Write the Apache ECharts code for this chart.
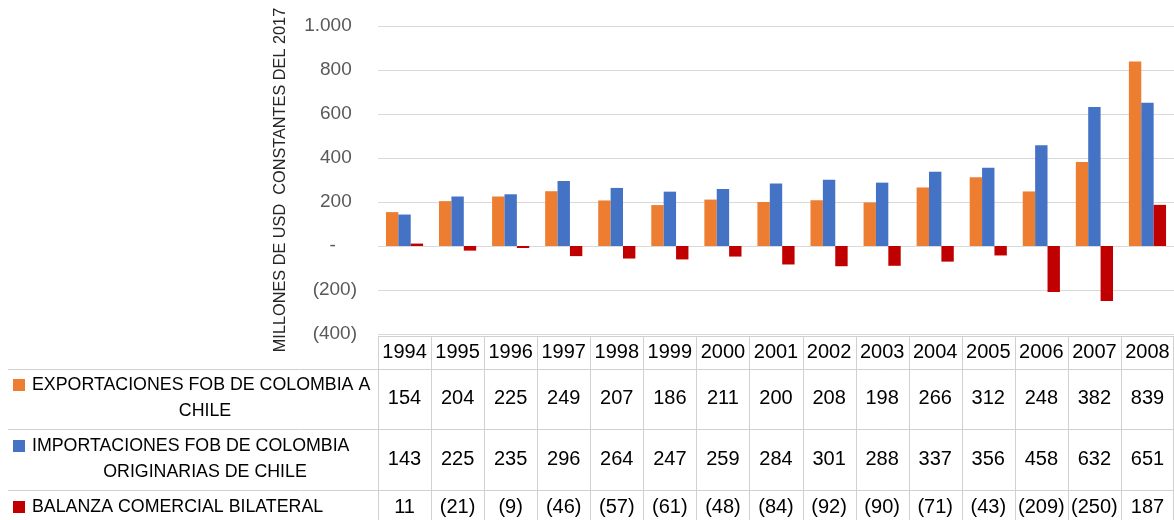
<!DOCTYPE html>
<html>
<head>
<meta charset="utf-8">
<script src="https://cdn.jsdelivr.net/npm/echarts@6/dist/echarts.min.js"></script>
<style>
  html, body { margin: 0; padding: 0; background: #fff; }
  #chart { width: 1174px; height: 520px; }
</style>
</head>
<body>
<div id="chart"></div>
<script>
'use strict';

// data
var years = ['1994', '1995', '1996', '1997', '1998', '1999', '2000', '2001',
  '2002', '2003', '2004', '2005', '2006', '2007', '2008'];
var exportsFob = [154, 204, 225, 249, 207, 186, 211, 200, 208, 198, 266, 312, 248, 382, 839];
var importsFob = [143, 225, 235, 296, 264, 247, 259, 284, 301, 288, 337, 356, 458, 632, 651];
var balance = [11, -21, -9, -46, -57, -61, -48, -84, -92, -90, -71, -43, -209, -250, 187];
var seriesNames = [
  ['EXPORTACIONES FOB DE COLOMBIA A', 'CHILE'],
  ['IMPORTACIONES FOB DE COLOMBIA', 'ORIGINARIAS DE CHILE'],
  ['BALANZA COMERCIAL BILATERAL']
];
var colors = ['#ED7D31', '#4472C4', '#C00000'];
var yName = 'MILLONES DE USD  CONSTANTES DEL 2017';

var FONT = '"Liberation Sans", Arial, sans-serif';
var plotLeft = 378, plotRight = 1174, plotTop = 26, plotBottom = 334;
var colW = (plotRight - plotLeft) / years.length;

// (x) para negativos, separador de miles con punto
function fmt(n) {
  var s = String(Math.abs(n)).replace(/\B(?=(\d{3})+(?!\d))/g, '.');
  return n < 0 ? '(' + s + ')' : s;
}

function tableAxis(values, offset) {
  return {
    type: 'category', data: years, gridIndex: 0, position: 'bottom', offset: offset,
    axisLine: { show: false }, axisTick: { show: false }, splitLine: { show: false },
    axisLabel: {
      interval: 0, margin: 0, verticalAlign: 'middle', color: '#000',
      fontFamily: FONT, fontSize: 20,
      formatter: function (v, i) { return values ? fmt(values[i]) : v; }
    }
  };
}

// lineas de la tabla
var graphics = [];
var lineStyle = { stroke: '#D0D0D0', lineWidth: 1 };
[[plotLeft, 336.5], [8, 369.5], [8, 429.5], [8, 490.5]].forEach(function (h) {
  graphics.push({ type: 'line', shape: { x1: h[0], y1: h[1], x2: plotRight, y2: h[1] }, style: lineStyle, silent: true });
});
for (var k = 0; k <= years.length; k++) {
  var x = Math.min(Math.round(plotLeft + k * colW) + 0.5, plotRight - 0.5);
  graphics.push({ type: 'line', shape: { x1: x, y1: 336, x2: x, y2: 520 }, style: lineStyle, silent: true });
}

// leyenda dentro de la tabla
var rowLines = [[385, 411], [446, 472], [507]];
seriesNames.forEach(function (lines, i) {
  graphics.push({ type: 'rect', shape: { x: 13, y: rowLines[i][0] - 6, width: 12, height: 12 }, style: { fill: colors[i] }, silent: true });
  graphics.push({ type: 'text', x: 32, y: rowLines[i][0],
    style: { text: lines[0], font: '17.8px ' + FONT, fill: '#000', textAlign: 'left', textVerticalAlign: 'middle' }, silent: true });
  if (lines[1]) {
    graphics.push({ type: 'text', x: 205, y: rowLines[i][1],
      style: { text: lines[1], font: '17.8px ' + FONT, fill: '#000', textAlign: 'center', textVerticalAlign: 'middle' }, silent: true });
  }
});

var chart = echarts.init(document.getElementById('chart'));
chart.setOption({
  animation: false,
  grid: { left: plotLeft, right: 1174 - plotRight, top: plotTop, bottom: 520 - plotBottom, containLabel: false },
  xAxis: [
    tableAxis(null, 18),
    tableAxis(exportsFob, 64),
    tableAxis(importsFob, 125),
    tableAxis(balance, 173)
  ],
  yAxis: {
    type: 'value', min: -400, max: 1000, interval: 200,
    name: yName, nameLocation: 'middle', nameGap: 89, nameRotate: 90,
    nameTextStyle: { color: '#262626', fontFamily: FONT, fontSize: 16.3 },
    axisLine: { show: false }, axisTick: { show: false },
    splitLine: { lineStyle: { color: '#D9D9D9', width: 1 } },
    axisLabel: {
      margin: 21, color: '#595959', fontFamily: FONT, fontSize: 19,
      formatter: function (v) {
        if (v === 0) return '-    ';
        return v > 0 ? fmt(v) + ' ' : fmt(v);
      }
    }
  },
  series: [exportsFob, importsFob, balance].map(function (vals, i) {
    return {
      name: seriesNames[i].join(' '), type: 'bar', xAxisIndex: 0, data: vals,
      itemStyle: { color: colors[i] }, barGap: '0%', barCategoryGap: '30%'
    };
  }),
  graphic: graphics
});
</script>
</body>
</html>
